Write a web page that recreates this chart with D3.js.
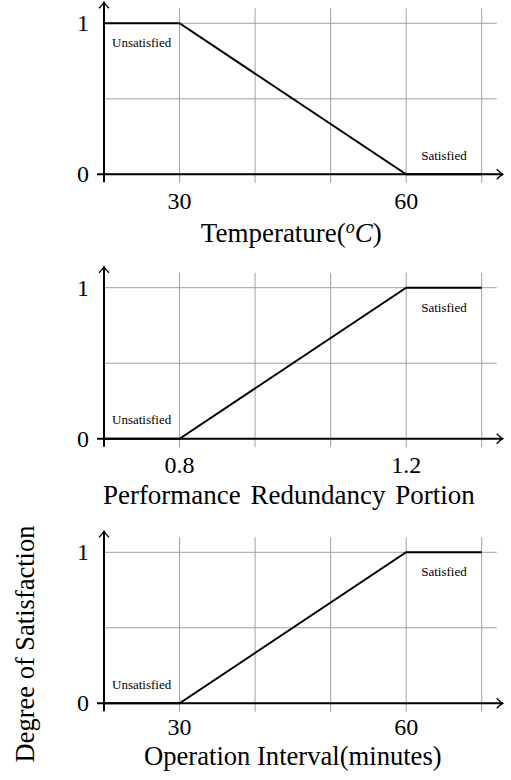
<!DOCTYPE html>
<html>
<head>
<meta charset="utf-8">
<script src="https://cdn.jsdelivr.net/npm/d3@7"></script>
<style>
  body { margin: 0; background: #fff; }
  text { font-family: "Liberation Serif", "Times New Roman", serif; fill: #000; }
</style>
</head>
<body>
<div id="chart"></div>
<script>
// temperature panel
var tempX = [20, 30, 60, 70];
var tempY = [1, 1, 0, 0];
var tempGrid = [30, 40, 50, 60, 70];
var tempTicks = [30, 60];
var tempRegions = ["Unsatisfied", "Satisfied"];

// performance redundancy panel
var redX = [0.6667, 0.8, 1.2, 1.3333];
var redY = [0, 0, 1, 1];
var redGrid = [0.8, 0.9333, 1.0667, 1.2, 1.3333];
var redTicks = [0.8, 1.2];
var redRegions = ["Unsatisfied", "Satisfied"];

// operation interval panel
var intX = [20, 30, 60, 70];
var intY = [0, 0, 1, 1];
var intGrid = [30, 40, 50, 60, 70];
var intTicks = [30, 60];
var intRegions = ["Unsatisfied", "Satisfied"];

var yTicks = [0, 1];
var yGrid = [0, 0.5, 1];

var width = 511, height = 780;
var left = 104, right = 481.7;

var svg = d3.select("#chart")
            .append("svg")
            .attr("width", width)
            .attr("height", height);

// arrow head like tikz "->"
var defs = svg.append("defs");
defs.append("marker")
    .attr("id", "arrow")
    .attr("viewBox", "-8 -6 10 12")
    .attr("refX", 0)
    .attr("refY", 0)
    .attr("markerWidth", 10)
    .attr("markerHeight", 12)
    .attr("markerUnits", "userSpaceOnUse")
    .attr("orient", "auto")
    .append("path")
    .attr("d", "M-6,-5 Q-2,-1 0,0 Q-2,1 -6,5")
    .attr("fill", "none")
    .attr("stroke", "#000")
    .attr("stroke-width", 1.4);

function drawPanel(opt) {
  var g = svg.append("g");
  var x = d3.scaleLinear().domain([opt.xs[0], opt.grid[opt.grid.length - 1]]).range([left, right]);
  var y = d3.scaleLinear().domain([0, 1]).range([opt.top + 151, opt.top]);
  var y0 = y(0), y1 = y(1);

  // grid
  g.selectAll(".vgrid").data(opt.grid).enter().append("line")
   .attr("x1", d => x(d)).attr("x2", d => x(d))
   .attr("y1", y1 - 15).attr("y2", y0 + 8.5)
   .attr("stroke", "#a0a0a0").attr("stroke-width", 1);
  g.selectAll(".hgrid").data(yGrid).enter().append("line")
   .attr("x1", left).attr("x2", right + 15)
   .attr("y1", d => y(d)).attr("y2", d => y(d))
   .attr("stroke", "#a0a0a0").attr("stroke-width", 1);

  // axes
  g.append("line")
   .attr("x1", left - 7).attr("x2", right + 21)
   .attr("y1", y0).attr("y2", y0)
   .attr("stroke", "#000").attr("stroke-width", 2)
   .attr("marker-end", "url(#arrow)");
  g.append("line")
   .attr("x1", left).attr("x2", left)
   .attr("y1", y0 + 8).attr("y2", y1 - 21)
   .attr("stroke", "#000").attr("stroke-width", 2)
   .attr("marker-end", "url(#arrow)");

  // membership line
  var line = d3.line().x((d, i) => x(opt.xs[i])).y((d, i) => y(opt.ys[i]));
  g.append("path")
   .datum(opt.ys)
   .attr("d", line)
   .attr("fill", "none")
   .attr("stroke", "#000")
   .attr("stroke-width", 1.9)
   .attr("stroke-linejoin", "miter");

  // tick labels
  g.selectAll(".xt").data(opt.ticks).enter().append("text")
   .attr("x", d => x(d)).attr("y", y0 + opt.tickGap)
   .attr("text-anchor", "middle")
   .style("font-size", "24px")
   .text(d => opt.fmt(d));
  g.selectAll(".yt").data(yTicks).enter().append("text")
   .attr("x", left - 15).attr("y", d => y(d))
   .attr("dy", "0.33em")
   .attr("text-anchor", "end")
   .style("font-size", "24px")
   .text(d => d);

  // region labels
  var n = opt.ys.length;
  g.append("text")
   .attr("x", left + 8)
   .attr("y", opt.ys[0] === 1 ? y1 + 23.5 : y0 - 14.5)
   .style("font-size", "13px")
   .text(opt.regions[0]);
  g.append("text")
   .attr("x", x(opt.grid[3]) + 15)
   .attr("y", opt.ys[n - 1] === 1 ? y1 + 24 : y0 - 14.5)
   .style("font-size", "13px")
   .text(opt.regions[1]);

  // axis title
  var t = g.append("text")
   .attr("x", (left + right) / 2 + opt.labelShift)
   .attr("y", y0 + opt.labelGap)
   .attr("text-anchor", "middle")
   .style("font-size", "27px");
  opt.label(t);
}

drawPanel({
  top: 23.3, xs: tempX, ys: tempY, grid: tempGrid, ticks: tempTicks, regions: tempRegions,
  fmt: d => d, tickGap: 34.5, labelGap: 67.5, labelShift: -1.5,
  label: function(t) {
    t.append("tspan").text("Temperature(");
    t.append("tspan").attr("dy", -9).style("font-size", "18px").style("font-style", "italic").text("o");
    t.append("tspan").attr("dy", 9).style("font-style", "italic").text("C");
    t.append("tspan").text(")");
  }
});

drawPanel({
  top: 287.7, xs: redX, ys: redY, grid: redGrid, ticks: redTicks, regions: redRegions,
  fmt: d => d3.format(".1f")(d), tickGap: 34.5, labelGap: 65, labelShift: -4,
  label: function(t) { t.style("word-spacing", "3px").text("Performance Redundancy Portion"); }
});

drawPanel({
  top: 552.3, xs: intX, ys: intY, grid: intGrid, ticks: intTicks, regions: intRegions,
  fmt: d => d, tickGap: 32, labelGap: 62, labelShift: 0,
  label: function(t) { t.style("font-size", "26.6px").text("Operation Interval(minutes)"); }
});

// shared y title
svg.append("text")
   .attr("transform", "translate(34,644) rotate(-90)")
   .attr("text-anchor", "middle")
   .style("font-size", "26.5px")
   .text("Degree of Satisfaction");
</script>
</body>
</html>
